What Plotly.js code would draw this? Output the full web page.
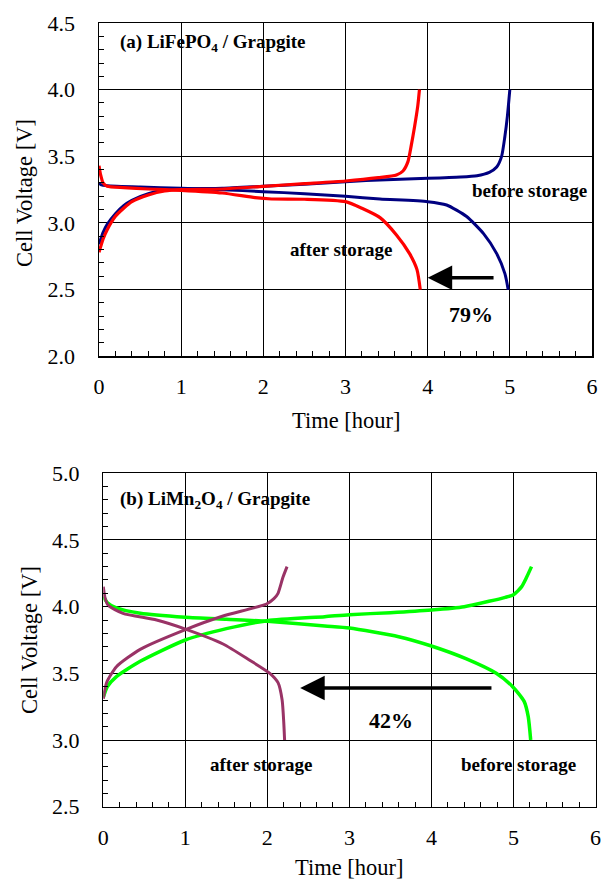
<!DOCTYPE html>
<html>
<head>
<meta charset="utf-8">
<script src="https://cdn.plot.ly/plotly-3.0.1.min.js"></script>
<style>html,body{margin:0;padding:0;background:#fff;}#chart{width:601px;height:879px;}</style>
</head>
<body>
<div id="chart"></div>
<script>
// ---- (a) LiFePO4 / Graphite ----
var aBeforeChargeT = [0, 0.05, 0.1, 0.2, 0.3, 0.4, 0.6, 0.8, 1.0, 1.5, 2.0, 2.5, 3.0, 3.5, 4.0, 4.4, 4.6, 4.75, 4.84, 4.9, 4.94, 4.97, 5.0];
var aBeforeChargeV = [2.84, 2.93, 2.99, 3.07, 3.13, 3.17, 3.22, 3.245, 3.255, 3.26, 3.275, 3.29, 3.31, 3.325, 3.335, 3.345, 3.355, 3.38, 3.42, 3.50, 3.65, 3.80, 4.0];
var aBeforeDischT = [0, 0.03, 0.1, 0.5, 1.0, 1.5, 2.0, 2.5, 3.0, 3.42, 4.0, 4.23, 4.47, 4.68, 4.84, 4.94, 4.98];
var aBeforeDischV = [3.30, 3.285, 3.28, 3.27, 3.26, 3.25, 3.235, 3.22, 3.20, 3.18, 3.16, 3.135, 3.05, 2.92, 2.77, 2.62, 2.50];
var aAfterChargeT = [0, 0.05, 0.1, 0.2, 0.3, 0.4, 0.6, 0.8, 1.0, 1.5, 2.0, 2.5, 3.0, 3.4, 3.62, 3.7, 3.76, 3.8, 3.84, 3.88, 3.9];
var aAfterChargeV = [2.78, 2.88, 2.95, 3.05, 3.11, 3.16, 3.21, 3.24, 3.25, 3.255, 3.275, 3.295, 3.315, 3.34, 3.36, 3.39, 3.46, 3.58, 3.72, 3.88, 4.0];
var aAfterDischT = [0, 0.02, 0.05, 0.1, 0.3, 0.6, 1.0, 1.5, 1.9, 2.1, 2.5, 3.0, 3.2, 3.42, 3.62, 3.78, 3.87, 3.91];
var aAfterDischV = [3.43, 3.36, 3.30, 3.275, 3.265, 3.255, 3.245, 3.225, 3.19, 3.18, 3.178, 3.16, 3.11, 3.04, 2.91, 2.77, 2.65, 2.50];

// ---- (b) LiMn2O4 / Graphite ----
var bBeforeChargeT = [0, 0.05, 0.16, 0.45, 1.0, 1.5, 2.0, 2.7, 3.0, 3.5, 4.0, 4.4, 4.7, 4.9, 5.0, 5.1, 5.16, 5.22];
var bBeforeChargeV = [3.32, 3.40, 3.475, 3.59, 3.75, 3.835, 3.895, 3.925, 3.94, 3.955, 3.975, 4.0, 4.04, 4.07, 4.09, 4.15, 4.22, 4.30];
var bBeforeDischT = [0, 0.05, 0.16, 0.45, 1.0, 1.5, 2.0, 2.7, 3.0, 3.6, 4.0, 4.42, 4.79, 4.99, 5.13, 5.18, 5.21];
var bBeforeDischV = [4.075, 4.03, 3.99, 3.95, 3.92, 3.905, 3.89, 3.855, 3.84, 3.775, 3.705, 3.61, 3.50, 3.40, 3.29, 3.175, 3.0];
var bAfterChargeT = [0, 0.04, 0.16, 0.45, 1.01, 1.46, 1.99, 2.08, 2.13, 2.19, 2.24];
var bAfterChargeV = [3.31, 3.43, 3.55, 3.68, 3.83, 3.93, 4.02, 4.06, 4.10, 4.22, 4.30];
var bAfterDischT = [0, 0.02, 0.06, 0.24, 0.65, 1.01, 1.46, 1.78, 2.03, 2.13, 2.18, 2.20, 2.21];
var bAfterDischV = [4.15, 4.07, 4.01, 3.95, 3.90, 3.83, 3.72, 3.60, 3.50, 3.43, 3.30, 3.13, 3.0];

var xTickVals = [0, 1, 2, 3, 4, 5, 6];
var xTickText = ['0', '1', '2', '3', '4', '5', '6'];
var aYTickVals = [2.0, 2.5, 3.0, 3.5, 4.0, 4.5];
var bYTickVals = [2.5, 3.0, 3.5, 4.0, 4.5, 5.0];

var labels = {
  aTitle: '<b>(a) LiFePO<sub>4</sub> / Grapgite</b>',
  bTitle: '<b>(b) LiMn<sub>2</sub>O<sub>4</sub> / Grapgite</b>',
  before: '<b>before storage</b>',
  after: '<b>after storage</b>',
  aPct: '<b>79%</b>',
  bPct: '<b>42%</b>',
  xTitle: 'Time [hour]',
  yTitle: 'Cell Voltage [V]'
};

var RED = '#ff0000', NAVY = '#000080', GREEN = '#00ff00', PURPLE = '#993366';
function line(x, y, color, w, xa, ya) {
  return {x: x, y: y, type: 'scatter', mode: 'lines', xaxis: xa, yaxis: ya,
          line: {color: color, width: w, shape: 'spline', smoothing: 0.6},
          hoverinfo: 'skip', showlegend: false};
}
var data = [
  line(aBeforeChargeT, aBeforeChargeV, NAVY, 3, 'x', 'y'),
  line(aBeforeDischT, aBeforeDischV, NAVY, 3, 'x', 'y'),
  line(aAfterChargeT, aAfterChargeV, RED, 3.2, 'x', 'y'),
  line(aAfterDischT, aAfterDischV, RED, 3.2, 'x', 'y'),
  line(bBeforeChargeT, bBeforeChargeV, GREEN, 3.5, 'x2', 'y2'),
  line(bBeforeDischT, bBeforeDischV, GREEN, 3.5, 'x2', 'y2'),
  line(bAfterChargeT, bAfterChargeV, PURPLE, 3, 'x2', 'y2'),
  line(bAfterDischT, bAfterDischV, PURPLE, 3, 'x2', 'y2')
];

var FONT = 'Liberation Serif, Times New Roman, serif';
function xAxis(domain, anchor) {
  return {domain: domain, anchor: anchor, range: [0, 6], tickvals: xTickVals, ticktext: xTickText,
    showgrid: true, gridcolor: '#000', gridwidth: 1, zeroline: false,
    showline: true, linecolor: '#000', linewidth: 1.5, mirror: true,
    ticks: 'inside', ticklen: 5, tickcolor: '#000', ticklabelstandoff: 10,
    minor: {dtick: 0.2, ticks: 'inside', ticklen: 5, tickcolor: '#000', showgrid: false},
    tickfont: {family: FONT, size: 22, color: '#000'}, fixedrange: true};
}
function yAxis(domain, anchor, range, vals) {
  return {domain: domain, anchor: anchor, range: range, tickvals: vals, tickformat: '.1f',
    showgrid: true, gridcolor: '#000', gridwidth: 1, zeroline: false,
    showline: true, linecolor: '#000', linewidth: 1.5, mirror: true,
    ticks: 'inside', ticklen: 5, tickcolor: '#000', ticklabelstandoff: 18,
    minor: {dtick: 0.1, ticks: 'inside', ticklen: 5, tickcolor: '#000', showgrid: false},
    tickfont: {family: FONT, size: 22, color: '#000'}, fixedrange: true};
}

function txt(xref, yref, x, y, text, size, xanchor) {
  return {xref: xref, yref: yref, x: x, y: y, text: text, showarrow: false,
          xanchor: xanchor || 'center', yanchor: 'middle',
          font: {family: FONT, size: size, color: '#000'}};
}
function arrow(xref, yref, x, y, ax, ay) {
  return {xref: xref, yref: yref, x: x, y: y, axref: xref, ayref: yref, ax: ax, ay: ay,
          text: '', showarrow: true, arrowhead: 2, arrowsize: 1.4, arrowwidth: 3.5, arrowcolor: '#000',
          standoff: 0};
}

var annotations = [
  txt('x', 'y', 0.23, 4.35, labels.aTitle, 19, 'left'),
  txt('x', 'y', 5.24, 3.24, labels.before, 19),
  txt('x', 'y', 2.95, 2.80, labels.after, 19),
  txt('x', 'y', 4.53, 2.31, labels.aPct, 22),
  arrow('x', 'y', 4.0, 2.59, 4.82, 2.59),
  txt('x2', 'y2', 0.18, 4.80, labels.bTitle, 19, 'left'),
  txt('x2', 'y2', 5.06, 2.82, labels.before, 19),
  txt('x2', 'y2', 1.93, 2.82, labels.after, 19),
  txt('x2', 'y2', 3.51, 3.15, labels.bPct, 22),
  arrow('x2', 'y2', 2.4, 3.39, 4.75, 3.39),
  // axis titles
  {xref: 'paper', yref: 'paper', x: 25 / 601, y: 1 - 193 / 879, text: labels.yTitle, textangle: -90,
   showarrow: false, xanchor: 'center', yanchor: 'middle', font: {family: FONT, size: 22.5, color: '#000'}},
  {xref: 'paper', yref: 'paper', x: 346 / 601, y: 1 - 421 / 879, text: labels.xTitle,
   showarrow: false, xanchor: 'center', yanchor: 'middle', font: {family: FONT, size: 22.5, color: '#000'}},
  {xref: 'paper', yref: 'paper', x: 29 / 601, y: 1 - 640 / 879, text: labels.yTitle, textangle: -90,
   showarrow: false, xanchor: 'center', yanchor: 'middle', font: {family: FONT, size: 22.5, color: '#000'}},
  {xref: 'paper', yref: 'paper', x: 349 / 601, y: 1 - 867 / 879, text: labels.xTitle,
   showarrow: false, xanchor: 'center', yanchor: 'middle', font: {family: FONT, size: 22.5, color: '#000'}}
];

var layout = {
  width: 601, height: 879,
  margin: {l: 0, r: 0, t: 0, b: 0},
  paper_bgcolor: '#fff', plot_bgcolor: '#fff',
  showlegend: false,
  xaxis: xAxis([99 / 601, 592 / 601], 'y'),
  yaxis: yAxis([1 - 356.3 / 879, 1 - 23 / 879], 'x', [2.0, 4.5], aYTickVals),
  xaxis2: xAxis([103.3 / 601, 595.5 / 601], 'y2'),
  yaxis2: yAxis([1 - 806.7 / 879, 1 - 473.3 / 879], 'x2', [2.5, 5.0], bYTickVals),
  annotations: annotations
};

Plotly.newPlot('chart', data, layout, {displayModeBar: false, staticPlot: true});
</script>
</body>
</html>
